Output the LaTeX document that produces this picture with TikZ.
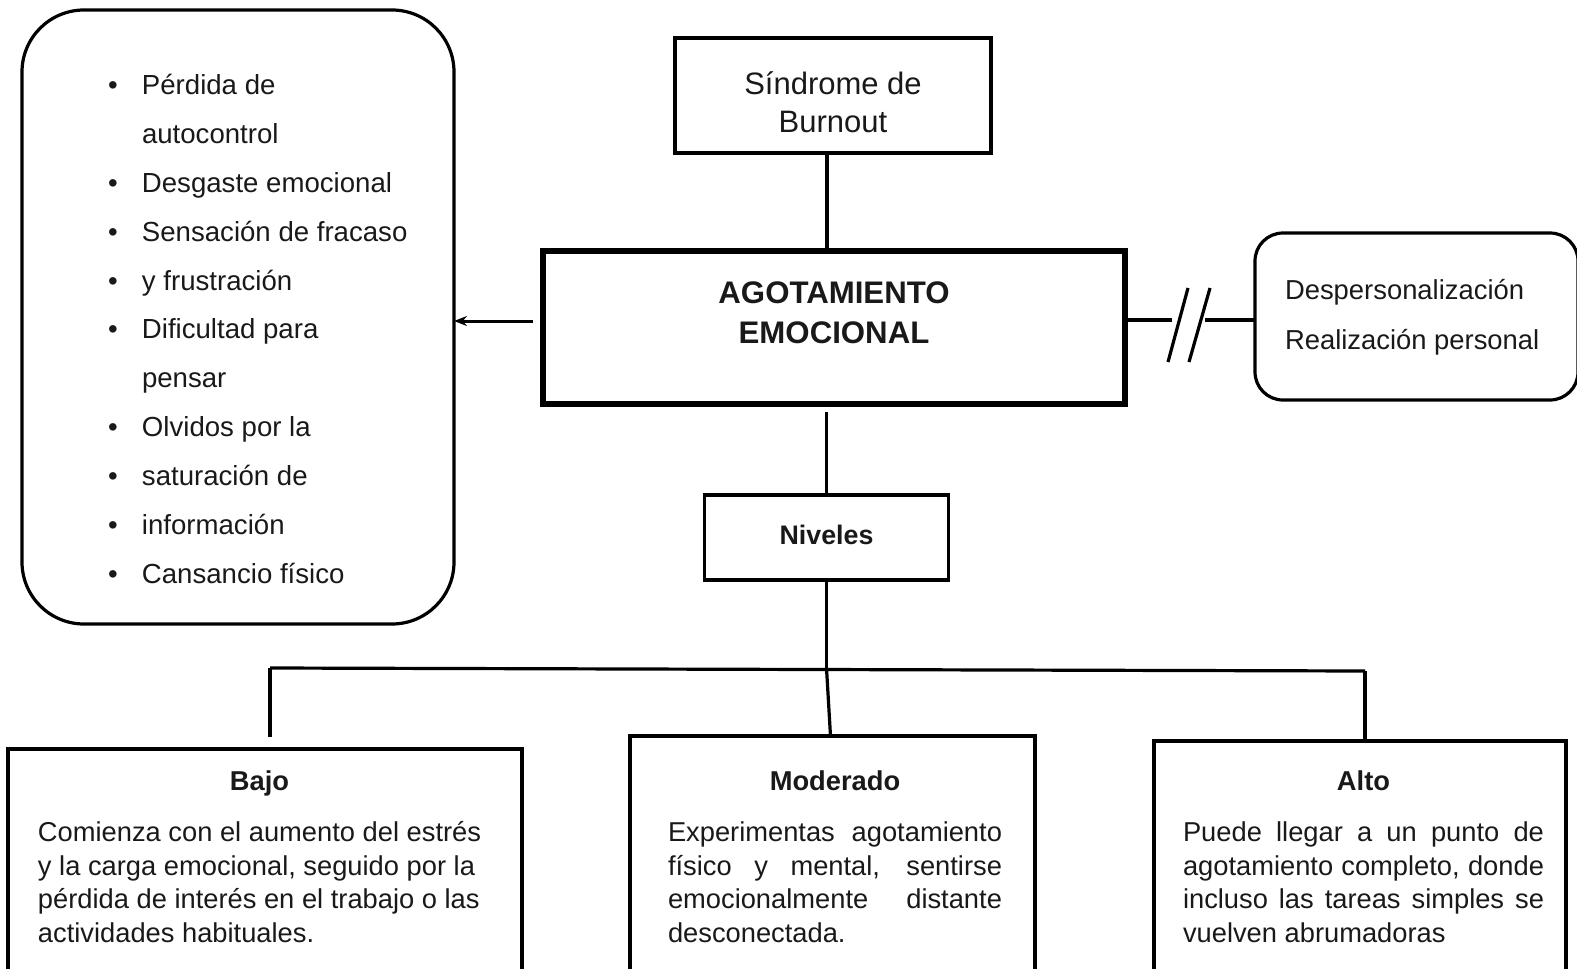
\documentclass[tikz,border=0pt]{standalone}
\usepackage{fontspec}
\setmainfont{Liberation Sans}
\usetikzlibrary{arrows.meta}
\newcommand\fsz[2]{\fontsize{#1}{#2}\selectfont}
\begin{document}
\begin{tikzpicture}[x=1pt,y=-1pt,
  every node/.style={inner sep=0pt,outer sep=0pt,text=black!90},
  sq/.style={draw,line width=3.4pt,rectangle},
  rbox/.style={draw,line width=3.2pt,rectangle},
  conn/.style={line width=3.2pt},
  arr/.style={line width=3pt,-{Stealth[length=13pt,width=10pt]}}]
\useasboundingbox (0,0) rectangle (1577,969);

% top box
\node[sq,minimum width=316pt,minimum height=115pt] (sind) at (833,95.5)
  {\makebox[316pt][c]{\raisebox{-36.5pt}[0pt][0pt]{\fsz{31}{37.5}\begin{tabular}[b]{@{}c@{}}Síndrome de\\Burnout\end{tabular}}}};

% central box
\node[sq,line width=5.5pt,minimum width=582pt,minimum height=153pt] (ag) at (834,327.5)
  {\makebox[582pt][c]{\raisebox{-15.5pt}[0pt][0pt]{\fsz{31.2}{40}\bfseries\begin{tabular}[b]{@{}c@{}}AGOTAMIENTO\\EMOCIONAL\end{tabular}}}};

% niveles
\node[sq,minimum width=244pt,minimum height=85pt] (niv) at (826.5,537.5)
  {\makebox[244pt][c]{\raisebox{-7pt}[0pt][0pt]{\fsz{26.8}{32}\bfseries Niveles}}};

% left list box
\node[rbox,rounded corners=62pt,minimum width=432pt,minimum height=614pt] (lb) at (238,317)
  {\makebox[432pt][l]{\hspace*{86pt}\raisebox{-266.7pt}[0pt][0pt]{\fsz{27.6}{48.95}\begin{tabular}[b]{@{}l@{}l@{}}
  \makebox[34pt][l]{\textbullet} & Pérdida de\\
   & autocontrol\\
  \makebox[34pt][l]{\textbullet} & Desgaste emocional\\
  \makebox[34pt][l]{\textbullet} & Sensación de fracaso\\
  \makebox[34pt][l]{\textbullet} & y frustración\\
  \makebox[34pt][l]{\textbullet} & Dificultad para\\
   & pensar\\
  \makebox[34pt][l]{\textbullet} & Olvidos por la\\
  \makebox[34pt][l]{\textbullet} & saturación de\\
  \makebox[34pt][l]{\textbullet} & información\\
  \makebox[34pt][l]{\textbullet} & Cansancio físico
  \end{tabular}}}};

% right box
\node[rbox,rounded corners=28pt,minimum width=323pt,minimum height=167pt] (rb) at (1416.5,316.5)
  {\makebox[323pt][l]{\hspace*{30pt}\raisebox{-33pt}[0pt][0pt]{\fsz{27.4}{50}\begin{tabular}[b]{@{}l@{}}Despersonalización\\Realización personal\end{tabular}}}};

% bottom boxes
\node[sq,minimum width=514pt,minimum height=260pt] (bajo) at (265,879)
  {\makebox[514pt][l]{\hspace*{30pt}\raisebox{-63.5pt}[0pt][0pt]{\fsz{27.3}{33.7}\begin{tabular}[b]{@{}l@{}}
  \multicolumn{1}{@{}c@{}}{\bfseries Bajo}\\[16.8pt]
  Comienza con el aumento del estrés\\
  y la carga emocional, seguido por la\\
  pérdida de interés en el trabajo o las\\
  actividades habituales.
  \end{tabular}}}};

\node[sq,minimum width=405pt,minimum height=260pt] (mod) at (832.5,866)
  {\makebox[405pt][l]{\hspace*{38pt}\raisebox{-76.5pt}[0pt][0pt]{\fsz{27.3}{33.7}\begin{tabular}[b]{@{}l@{}}
  \multicolumn{1}{@{}c@{}}{\bfseries Moderado}\\[16.8pt]
  \makebox[334pt][s]{Experimentas agotamiento}\\
  \makebox[334pt][s]{físico y mental, sentirse}\\
  \makebox[334pt][s]{emocionalmente distante}\\
  desconectada.
  \end{tabular}}}};

\node[sq,minimum width=412pt,minimum height=260pt] (alto) at (1360,871)
  {\makebox[412pt][l]{\hspace*{29pt}\raisebox{-71.5pt}[0pt][0pt]{\fsz{27.3}{33.7}\begin{tabular}[b]{@{}l@{}}
  \multicolumn{1}{@{}c@{}}{\bfseries Alto}\\[16.8pt]
  \makebox[361pt][s]{Puede llegar a un punto de}\\
  \makebox[361pt][s]{agotamiento completo, donde}\\
  \makebox[361pt][s]{incluso las tareas simples se}\\
  vuelven abrumadoras
  \end{tabular}}}};

% connectors
\draw[conn] ([xshift=-6pt]sind.south) -- ([xshift=-6pt]sind.south |- ag.north);
\draw[conn] ([yshift=-8pt]ag.south -| niv.north) -- (niv.north);

\coordinate (a0) at (533,321);
\draw[arr] (a0) -- (a0 -| lb.east);

\coordinate (b1) at (1172,320);
\coordinate (b2) at (1205,320);
\coordinate (s1a) at (1168,362);
\coordinate (s1b) at (1188,288);
\coordinate (s2a) at (1189,362);
\coordinate (s2b) at (1210,288);
\draw[conn] (ag.east |- b1) -- (b1);
\draw[conn] (b2) -- (b2 -| rb.west);
\draw[conn] (s1a) -- (s1b);
\draw[conn] (s2a) -- (s2b);

\coordinate (hl) at (270,668);
\coordinate (hr) at (1365,671);
\draw[conn] (niv.south) -- (niv.south |- hl);
\draw[conn] (hl) -- (hr);
\draw[conn] (hl) -- ([yshift=12pt]hl |- bajo.north);
\draw[conn] (niv.south |- hl) -- ([xshift=4pt]niv.south |- mod.north);
\draw[conn] (hr) -- (hr |- alto.north);
\end{tikzpicture}
\end{document}
